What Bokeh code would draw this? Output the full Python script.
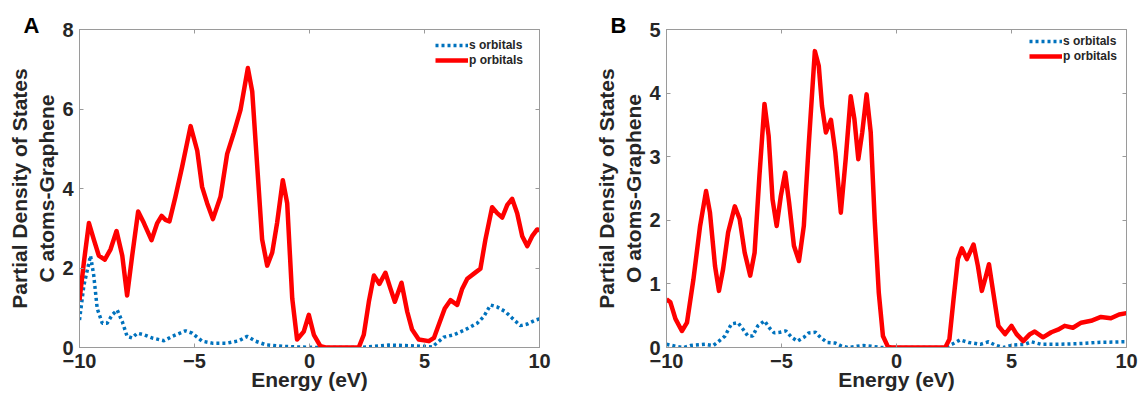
from bokeh.plotting import figure
from bokeh.layouts import row
from bokeh.models import LinearAxis, Legend, LegendItem, Range1d
from bokeh.embed import file_html
from bokeh.resources import INLINE

# ---------------- data ----------------
a_p_x = [-10, -9.81, -9.59, -9.38, -9.16, -8.90, -8.65, -8.39, -8.14, -7.93, -7.71, -7.45, -7.20, -6.87,
         -6.62, -6.43, -6.26, -6.09, -5.83, -5.54, -5.17, -4.88, -4.67, -4.45, -4.20, -3.87, -3.58, -3.29,
         -3.00, -2.68, -2.49, -2.28, -2.06, -1.84, -1.62, -1.41, -1.16, -0.97, -0.75, -0.54, -0.25, -0.03,
         0.19, 0.48, 0.70, 2.14, 2.36, 2.58, 2.80, 3.04, 3.30, 3.52, 3.71, 4.00, 4.25, 4.46, 4.75, 5.19,
         5.41, 5.62, 5.88, 6.13, 6.42, 6.64, 6.86, 7.22, 7.43, 7.65, 7.94, 8.16, 8.38, 8.60, 8.81, 9.03,
         9.25, 9.47, 9.68, 9.90, 10]
a_p_y = [1.19, 2.14, 3.13, 2.72, 2.31, 2.21, 2.47, 2.93, 2.31, 1.31, 2.31, 3.42, 3.13, 2.70,
         3.13, 3.31, 3.21, 3.17, 3.79, 4.54, 5.57, 4.95, 4.04, 3.63, 3.23, 3.79, 4.87, 5.40,
         5.98, 7.03, 6.44, 4.62, 2.72, 2.06, 2.39, 3.13, 4.21, 3.63, 1.23, 0.20, 0.40, 0.82,
         0.32, 0.03, 0.0, 0.0, 0.32, 1.15, 1.81, 1.60, 1.88, 1.48, 1.15, 1.63, 0.90, 0.45, 0.20, 0.16,
         0.24, 0.57, 0.98, 1.19, 1.07, 1.48, 1.73, 1.89, 1.98, 2.72, 3.53, 3.38, 3.27, 3.59, 3.74, 3.38,
         2.80, 2.55, 2.80, 2.97, 2.95]

a_s_x = [-10, -9.81, -9.52, -9.38, -9.23, -9.01, -8.80, -8.58, -8.36, -8.14, -7.93, -7.71, -7.49, -7.20,
         -6.84, -6.33, -5.97, -5.39, -5.10, -4.67, -4.23, -3.58, -3.07, -2.71, -2.35, -1.91, -1.19, -0.32,
         0.5, 2.14, 2.80, 3.45, 4.17, 4.90, 5.33, 5.55, 5.84, 6.28, 6.78, 7.29, 7.58, 7.87, 8.16, 8.52,
         8.81, 9.17, 9.47, 9.83, 10]
a_s_y = [0.69, 1.56, 2.31, 1.81, 0.98, 0.61, 0.61, 0.82, 0.94, 0.65, 0.28, 0.24, 0.36, 0.32,
         0.24, 0.17, 0.28, 0.42, 0.36, 0.16, 0.11, 0.11, 0.17, 0.28, 0.16, 0.07, 0.03, 0.01,
         0.0, 0.0, 0.03, 0.06, 0.05, 0.03, 0.01, 0.12, 0.26, 0.32, 0.45, 0.61, 0.78, 1.07, 1.02, 0.90,
         0.74, 0.55, 0.59, 0.69, 0.72]

b_p_x = [-10, -9.83, -9.61, -9.33, -9.11, -8.83, -8.54, -8.28, -8.11, -7.89, -7.72, -7.54, -7.32, -7.03,
         -6.82, -6.60, -6.36, -6.17, -5.96, -5.74, -5.56, -5.39, -5.21, -5.03, -4.84, -4.67, -4.46, -4.24,
         -4.03, -3.81, -3.55, -3.38, -3.24, -3.07, -2.85, -2.66, -2.42, -2.21, -1.99, -1.83, -1.66, -1.49,
         -1.30, -1.12, -0.95, -0.77, -0.59, -0.37, -0.2, 2.12, 2.30, 2.48, 2.67, 2.84, 3.06, 3.35, 3.54,
         3.71, 3.85, 4.02, 4.21, 4.43, 4.72, 5.00, 5.22, 5.51, 5.80, 6.01, 6.37, 6.73, 7.02, 7.31, 7.67,
         8.03, 8.46, 8.89, 9.32, 9.68, 10]
b_p_y = [0.76, 0.71, 0.45, 0.26, 0.39, 1.07, 1.91, 2.46, 2.12, 1.28, 0.89, 1.23, 1.81, 2.22,
         2.02, 1.49, 1.13, 1.49, 2.70, 3.83, 3.33, 2.33, 1.91, 2.38, 2.75, 2.28, 1.60, 1.36,
         1.91, 3.22, 4.66, 4.43, 3.80, 3.38, 3.58, 3.07, 2.12, 2.96, 3.95, 3.59, 2.96, 3.38,
         3.98, 3.38, 2.02, 0.86, 0.18, 0.01, 0.0, 0.0, 0.13, 0.76, 1.39, 1.56, 1.39, 1.62, 1.28,
         0.89, 1.07, 1.31, 0.86, 0.34, 0.21, 0.34, 0.21, 0.10, 0.21, 0.25, 0.16, 0.24, 0.28, 0.34, 0.31,
         0.39, 0.42, 0.48, 0.46, 0.52, 0.54]

b_s_x = [-10, -9.61, -9.26, -8.97, -8.32, -7.97, -7.75, -7.46, -7.18, -6.89, -6.68, -6.46, -6.25, -6.03,
         -5.74, -5.53, -5.32, -5.07, -4.81, -4.56, -4.31, -4.03, -3.81, -3.52, -3.31, -3.02, -2.66, -2.38,
         -2.09, -1.73, -1.45, -1.09, -0.66, 2.12, 2.41, 2.77, 3.13, 3.64, 4.00, 4.28, 4.64, 5.08, 5.58,
         5.87, 6.30, 7.02, 7.88, 8.75, 9.90, 10]
b_s_y = [0.05, 0.02, 0.0, 0.03, 0.05, 0.03, 0.09, 0.18, 0.37, 0.39, 0.29, 0.18, 0.18, 0.34,
         0.42, 0.31, 0.23, 0.24, 0.26, 0.16, 0.10, 0.16, 0.23, 0.24, 0.16, 0.08, 0.07, 0.02,
         0.0, 0.02, 0.03, 0.02, 0.0, 0.0, 0.05, 0.12, 0.08, 0.05, 0.09, 0.04, 0.0, 0.04, 0.05,
         0.09, 0.05, 0.05, 0.06, 0.08, 0.09, 0.09]

x_ticks = [-10, -5, 0, 5, 10]
a_y_ticks = [0, 2, 4, 6, 8]
b_y_ticks = [0, 1, 2, 3, 4, 5]
legend_labels = ["s orbitals", "p orbitals"]
x_label = "Energy (eV)"
a_y_label = "Partial Density of States\nC atoms-Graphene"
b_y_label = "Partial Density of States\nO atoms-Graphene"

FONT = "Liberation Sans"
TXT = "#262626"
AX = "#9a9a9a"
RED = "#ff0000"
BLUE = "#0072bd"


def style_axis(ax, labels=True):
    ax.axis_line_color = AX
    ax.major_tick_line_color = AX
    ax.minor_tick_line_color = None
    ax.major_tick_in = 4
    ax.major_tick_out = 0
    ax.major_label_text_font = FONT
    ax.major_label_text_font_style = "bold"
    ax.axis_label_text_font = FONT
    ax.axis_label_text_font_style = "bold"
    ax.axis_label_text_color = TXT
    ax.axis_label_text_font_size = "21px"
    if labels:
        ax.major_label_text_color = TXT
        ax.major_label_text_font_size = "20px"
    else:
        ax.major_label_text_color = None
        ax.major_label_text_font_size = "1px"
        ax.major_label_standoff = 0


def make_panel(letter, px, py, sx, sy, ymax, yticks, ylabel, width, left, right, bottom,
               leg_margin, leg_pad, leg_label_w):
    p = figure(width=width, height=404, x_range=Range1d(-10, 10), y_range=Range1d(0, ymax),
               output_backend="svg", toolbar_location=None,
               min_border_left=left, min_border_right=right, min_border_top=29,
               min_border_bottom=bottom)
    p.xgrid.visible = False
    p.ygrid.visible = False
    p.outline_line_color = AX
    p.background_fill_color = "white"
    p.border_fill_color = "white"

    # panel letter as title, pulled left of the frame
    p.title.text = letter
    p.title.align = "left"
    p.title.offset = -56
    p.title.standoff = -16
    p.title.text_font = FONT
    p.title.text_font_style = "bold"
    p.title.text_font_size = "22px"
    p.title.text_color = "black"

    rs = p.line(sx, sy, line_color=BLUE, line_width=3.5, line_dash="3 3", line_cap="butt")
    rp = p.line(px, py, line_color=RED, line_width=4.5, line_join="round")

    xa = p.xaxis[0]
    ya = p.yaxis[0]
    style_axis(xa)
    style_axis(ya)
    xa.ticker = x_ticks
    ya.ticker = yticks
    xa.axis_label = x_label
    ya.axis_label = ylabel
    xa.major_label_standoff = 6
    ya.major_label_standoff = 6
    xa.axis_label_standoff = -3
    ya.axis_label_standoff = 1

    top = LinearAxis(ticker=x_ticks)
    style_axis(top, labels=False)
    p.add_layout(top, "above")
    rt = LinearAxis(ticker=yticks)
    style_axis(rt, labels=False)
    p.add_layout(rt, "right")

    leg = Legend(items=[LegendItem(label=legend_labels[0], renderers=[rs]),
                        LegendItem(label=legend_labels[1], renderers=[rp])],
                 location="top_right")
    leg.label_text_font = FONT
    leg.label_text_font_style = "bold"
    leg.label_text_font_size = "12px"
    leg.label_text_color = TXT
    leg.glyph_width = 33
    leg.glyph_height = 14
    leg.label_height = 14
    leg.label_width = leg_label_w
    leg.label_standoff = 1
    leg.spacing = 1
    leg.padding = leg_pad
    leg.margin = leg_margin
    leg.border_line_alpha = 0
    leg.background_fill_alpha = 0
    p.add_layout(leg, "center")
    return p


pa = make_panel("A", a_p_x, a_p_y, a_s_x, a_s_y, 8, a_y_ticks, a_y_label,
                590, 79, 51, 53, 5, 4, 61)
pb = make_panel("B", b_p_x, b_p_y, b_s_x, b_s_y, 5, b_y_ticks, b_y_label,
                550, 76, 14, 57, 2, 3, 58)

layout = row(pa, pb)
open("out.html", "w").write(file_html(layout, INLINE))
